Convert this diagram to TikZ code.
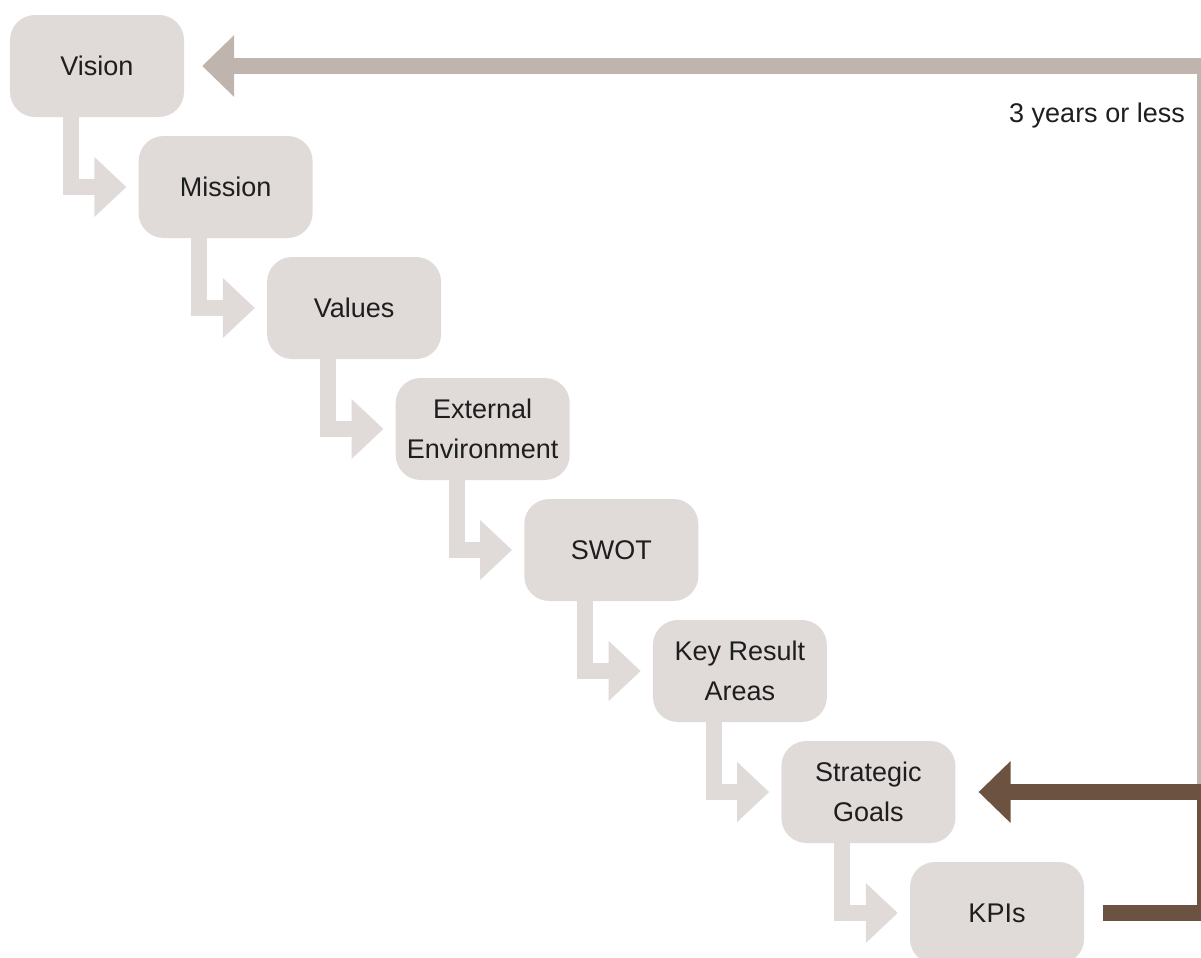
\documentclass[tikz,border=0pt]{standalone}
\usepackage{fontspec}
\setmainfont{Liberation Sans}
\usetikzlibrary{arrows.meta}
\definecolor{boxfill}{RGB}{224,219,216}
\definecolor{loopgray}{RGB}{191,181,174}
\definecolor{loopbrown}{RGB}{107,82,65}
\definecolor{inktext}{RGB}{30,30,30}
\tikzset{
  stage/.style={rectangle, rounded corners=25bp, fill=boxfill, draw=none,
    minimum width=174bp, minimum height=102bp, inner sep=0pt, align=center,
    text=inktext, font=\fontsize{27bp}{40bp}\selectfont},
  flowarrow/.style={draw=boxfill, line width=16bp, line join=miter,
    -{Triangle[length=32bp,width=58bp]}},
  looplong/.style={draw=loopgray, line width=16bp, line join=miter,
    -{Triangle[length=32bp,width=60bp]}},
  loopshort/.style={draw=loopbrown, line width=16bp, line join=miter,
    -{Triangle[length=32bp,width=60bp]}},
  note/.style={text=inktext, font=\fontsize{27bp}{40bp}\selectfont, inner sep=0pt}
}
\begin{document}
\begin{tikzpicture}[x=1bp,y=-1bp]
\useasboundingbox (0,0) rectangle (1201,958);

% cascade of planning stages
\node[stage] (vision) at (97,66) {Vision};
\node[stage] (mission) at (225.6,187) {Mission};
\node[stage] (values) at (354.1,308) {Values};
\node[stage] (extenv) at (482.7,429) {External\\Environment};
\node[stage] (swot) at (611.3,550) {SWOT};
\node[stage] (kra) at (739.9,671) {Key Result\\Areas};
\node[stage] (goals) at (868.4,792) {Strategic\\Goals};
\node[stage] (kpis) at (997,913) {KPIs};

% elbow arrows from each stage to the next
\draw[flowarrow] ([xshift=61bp]vision.south west) |- ([xshift=-12bp]mission.west);
\draw[flowarrow] ([xshift=61bp]mission.south west) |- ([xshift=-12bp]values.west);
\draw[flowarrow] ([xshift=61bp]values.south west) |- ([xshift=-12bp]extenv.west);
\draw[flowarrow] ([xshift=61bp]extenv.south west) |- ([xshift=-12bp]swot.west);
\draw[flowarrow] ([xshift=61bp]swot.south west) |- ([xshift=-12bp]kra.west);
\draw[flowarrow] ([xshift=61bp]kra.south west) |- ([xshift=-12bp]goals.west);
\draw[flowarrow] ([xshift=61bp]goals.south west) |- ([xshift=-12bp]kpis.west);

% feedback loops along the right edge
\coordinate (rail) at (1205,0);
\draw[looplong] (goals.east -| rail) -- (rail |- vision.east) -- ([xshift=18bp]vision.east);
\draw[loopshort] ([xshift=19bp]kpis.east) -- (kpis.east -| rail) -- (goals.east -| rail) -- ([xshift=23bp]goals.east);

\node[note, anchor=base east] (span) at (1185,122) {3 years or less};
\end{tikzpicture}
\end{document}
